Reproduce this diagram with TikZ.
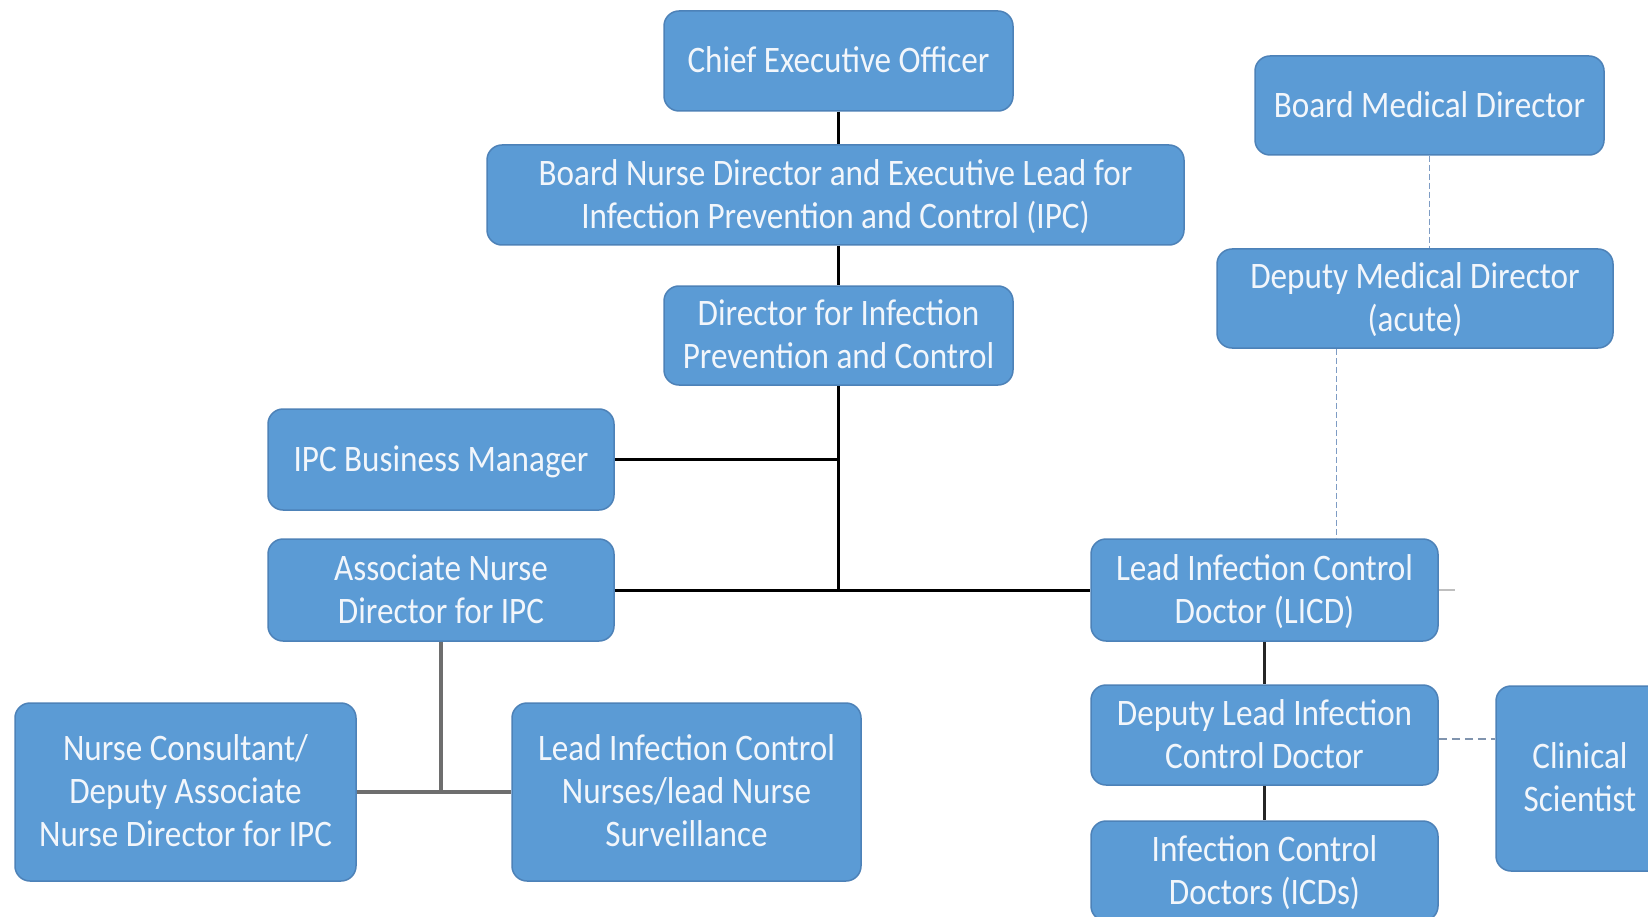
\documentclass[tikz,border=0pt]{standalone}
\usepackage{graphicx}
\usepackage{fontspec}
\setmainfont{Carlito}
\definecolor{boxblue}{HTML}{5B9BD5}
\definecolor{boxedge}{HTML}{4D82B8}
\definecolor{txt}{HTML}{F2F6FB}
\definecolor{graylink}{HTML}{6E6E6E}
\definecolor{bluedashc}{HTML}{7E9CC4}
\definecolor{graydashc}{HTML}{8094AE}
\newcommand{\orgtext}[1]{\raisebox{-3.3pt}[\height][\depth]{\scalebox{0.975}[1.1]{\begin{tabular}{@{}c@{}}#1\end{tabular}}}}
\tikzset{
  orgbox/.style={rounded corners=15pt, fill=boxblue, draw=boxedge, line width=1.5pt,
    text=txt, align=center, inner sep=0pt,
    font=\fontsize{34}{39}\selectfont},
  mainlink/.style={draw=black, line width=3pt},
  sublink/.style={draw=graylink, line width=4pt},
  darklink/.style={draw=black!85, line width=3pt},
  bluedash/.style={draw=bluedashc, line width=1.5pt, dash pattern=on 6pt off 3pt},
  graydash/.style={draw=graydashc, line width=2pt, dash pattern=on 8pt off 5pt},
  stub/.style={draw=black!25, line width=1.5pt}
}
\begin{document}
\begin{tikzpicture}[x=1pt,y=-1pt]
\useasboundingbox (0,0) rectangle (1648,917);
\fill[white] (0,0) rectangle (1648,917);

\node[orgbox, minimum width=349pt, minimum height=100pt] (ceo) at (838.5,61) {\orgtext{Chief Executive Officer}};
\node[orgbox, minimum width=697pt, minimum height=100pt] (bnd) at (835.5,195) {\orgtext{Board Nurse Director and Executive Lead for\\Infection Prevention and Control (IPC)}};
\node[orgbox, minimum width=349pt, minimum height=99pt] (dipc) at (838.5,335.5) {\orgtext{Director for Infection\\Prevention and Control}};
\node[orgbox, minimum width=346pt, minimum height=101pt] (ipcbm) at (441,459.5) {\orgtext{IPC Business Manager}};
\node[orgbox, minimum width=346pt, minimum height=102pt] (andipc) at (441,590) {\orgtext{Associate Nurse\\Director for IPC}};
\node[orgbox, minimum width=341pt, minimum height=178pt] (nc) at (185.5,792) {\orgtext{Nurse Consultant/\\Deputy Associate\\Nurse Director for IPC}};
\node[orgbox, minimum width=349pt, minimum height=178pt] (licn) at (686.5,792) {\orgtext{Lead Infection Control\\Nurses/lead Nurse\\Surveillance}};
\node[orgbox, minimum width=349pt, minimum height=99pt] (bmd) at (1429.5,105.5) {\orgtext{Board Medical Director}};
\node[orgbox, minimum width=396pt, minimum height=99pt] (dmd) at (1415,298.5) {\orgtext{Deputy Medical Director\\(acute)}};
\node[orgbox, minimum width=347pt, minimum height=102pt] (licd) at (1264.5,590) {\orgtext{Lead Infection Control\\Doctor (LICD)}};
\node[orgbox, minimum width=347pt, minimum height=100pt] (dlicd) at (1264.5,735) {\orgtext{Deputy Lead Infection\\Control Doctor}};
\node[orgbox, minimum width=347pt, minimum height=100pt] (icd) at (1264.5,871) {\orgtext{Infection Control\\Doctors (ICDs)}};
\node[orgbox, minimum width=168pt, minimum height=185pt] (cs) at (1580,778.5) {\orgtext{Clinical\\Scientist}};

% main chain
\draw[mainlink] (ceo.south) -- (ceo.south |- bnd.north);
\draw[mainlink] (ceo.south |- bnd.south) -- (dipc.north);
\coordinate (junc) at (dipc.south |- andipc.east);
\draw[mainlink] (dipc.south) -- (junc);
\draw[mainlink] (ipcbm.east) -- (dipc.south |- ipcbm.east);
\draw[mainlink] (andipc.east) -- (licd.west);

% nurse subtree
\coordinate (njunc) at (andipc.south |- nc.east);
\draw[sublink] (andipc.south) -- (njunc);
\draw[sublink] (nc.east) -- (licn.west);

% doctor subtree
\draw[darklink] (licd.south) -- (dlicd.north);
\draw[darklink] (dlicd.south) -- (icd.north);
\draw[stub] (licd.east) -- ++(16pt,0);

% dashed links
\draw[bluedash] (bmd.south) -- (bmd.south |- dmd.north);
\coordinate (dm1) at ([xshift=72pt]licd.north);
\draw[bluedash] (dm1 |- dmd.south) -- (dm1);
\draw[graydash] ([yshift=-4pt]dlicd.east) -- ([yshift=-4pt]dlicd.east -| cs.west);
\end{tikzpicture}
\end{document}
